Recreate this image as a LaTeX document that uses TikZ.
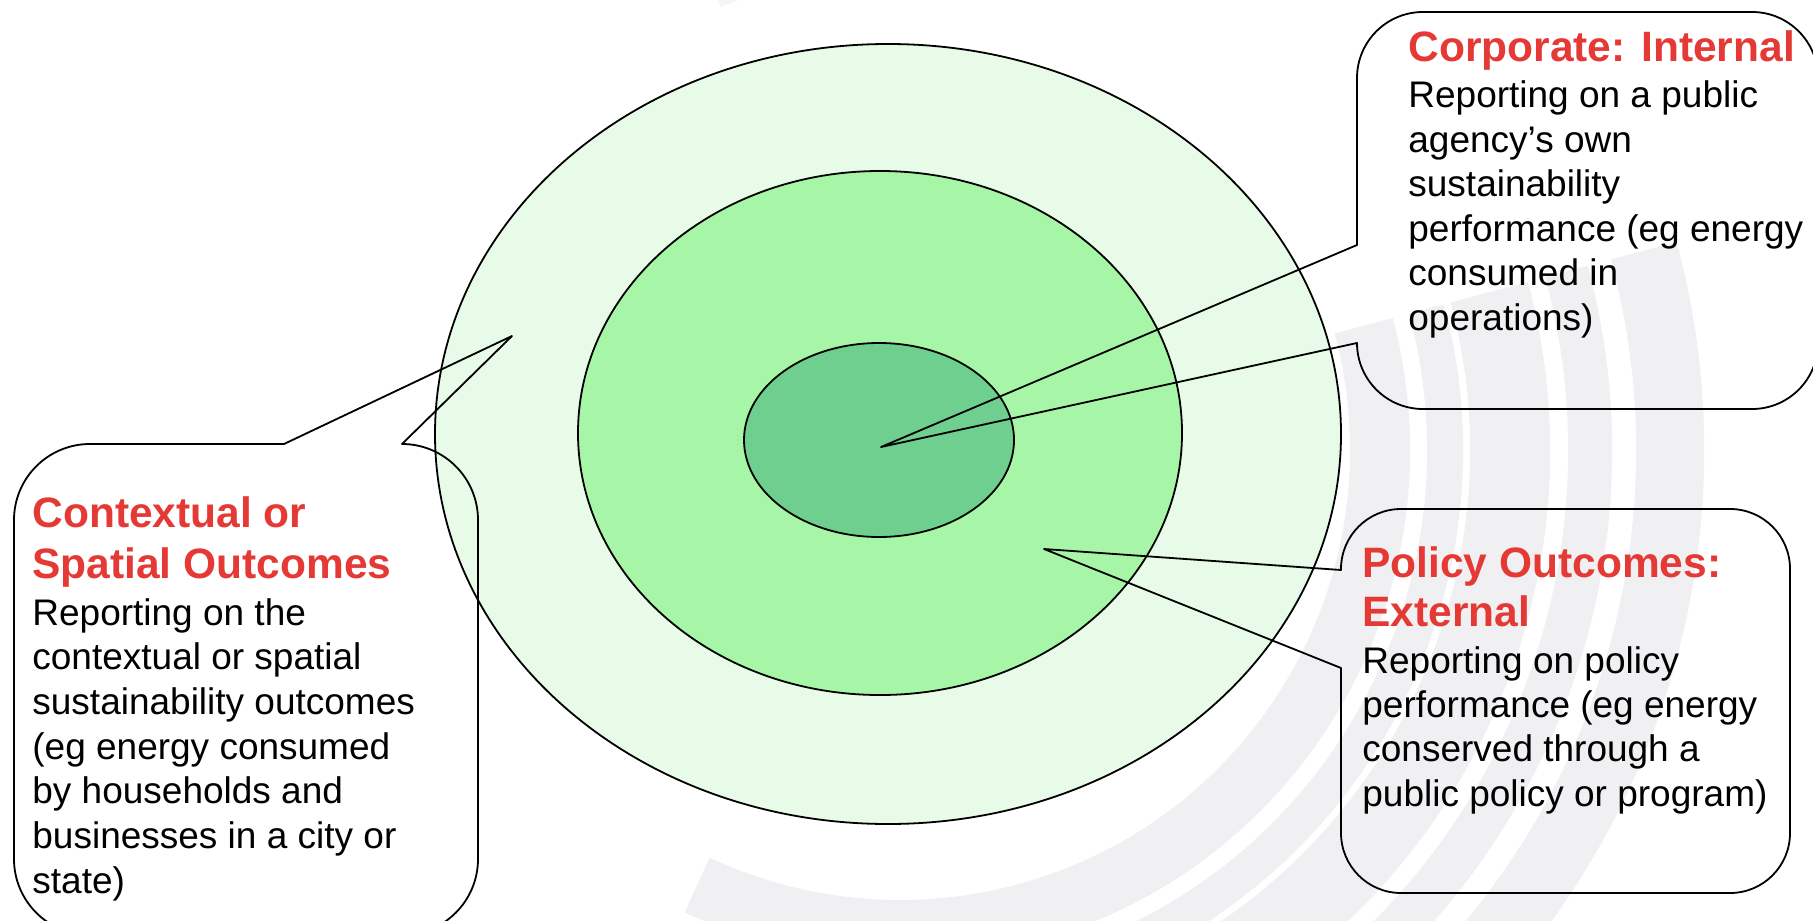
\documentclass[tikz,border=0pt]{standalone}
\usepackage{fontspec}
\setmainfont{Liberation Sans}
\usepackage{xcolor}
\definecolor{ringouter}{RGB}{229,250,229}
\definecolor{ringmiddle}{RGB}{160,246,160}
\definecolor{ringinner}{RGB}{111,207,143}
\definecolor{headred}{RGB}{229,57,53}
\definecolor{swoosh}{RGB}{222,222,230}

\begin{document}
\begin{tikzpicture}[x=0.5pt, y=-0.5pt,
  ring/.style={draw=black, line width=0.9pt},
  callout/.style={draw=black, line width=0.9pt, line join=round},
  head/.style={anchor=base west, inner sep=0pt, text=headred,
               font=\fontsize{21.25}{25}\selectfont\bfseries},
  body/.style={anchor=base west, inner sep=0pt,
               font=\fontsize{18.5}{22}\selectfont},
  band/.style={draw=swoosh, draw opacity=0.45},
]
  \useasboundingbox[fill=white] (0,0) rectangle (1813,920);

  % Background swirl
  \coordinate (swirl) at (900,450);
  \foreach \r/\w in {480/30, 545/18, 610/40, 690/22, 770/34}
    \draw[band, line width=\w] (swirl) ++(-15:\r) arc[start angle=-15, end angle=115, radius=\r];
  \foreach \r/\w in {500/22, 580/30}
    \draw[band, line width=\w, draw opacity=0.3] (swirl) ++(-112:\r) arc[start angle=-112, end angle=-78, radius=\r];

  % Rings
  \draw[ring, fill=ringouter, fill opacity=0.85] (888,434) ellipse[x radius=453, y radius=390];
  \draw[ring, fill=ringmiddle, fill opacity=0.9] (880,433) ellipse[x radius=302, y radius=262];
  \draw[ring, fill=ringinner] (879,440) ellipse[x radius=135, y radius=97];

  % Callout tips
  \coordinate (corpTip) at (881,447);
  \coordinate (polTip) at (1044,549);
  \coordinate (ctxTip) at (512,336);

  % Callout outlines
  \draw[callout] (1357,245) -- (corpTip) -- (1357,343)
    arc[start angle=180, end angle=90, radius=66] -- (1752,409)
    arc[start angle=90, end angle=0, radius=66] -- (1818,78)
    arc[start angle=0, end angle=-90, radius=66] -- (1423,12)
    arc[start angle=-90, end angle=-180, radius=66] -- cycle;
  \draw[callout] (1341,570) -- (polTip) -- (1341,668) -- (1341,833)
    arc[start angle=180, end angle=90, radius=60] -- (1730,893)
    arc[start angle=90, end angle=0, radius=60] -- (1790,569)
    arc[start angle=0, end angle=-90, radius=60] -- (1401,509)
    arc[start angle=-90, end angle=-180, radius=60] -- cycle;
  \draw[callout] (284,444) -- (ctxTip) -- (402,444)
    arc[start angle=-90, end angle=0, radius=76] -- (478,859)
    arc[start angle=0, end angle=90, radius=76] -- (90,935)
    arc[start angle=90, end angle=180, radius=76] -- (14,520)
    arc[start angle=180, end angle=270, radius=76] -- cycle;

  % Corporate: Internal
  \node[head] (corpHead) at (1408,62) {Corporate: Internal};
  \foreach \txt [count=\i] in {Reporting on a public, agency’s own, sustainability,
      performance (eg energy, consumed in, operations)}
    \node[body] (corp-\i) at (1408,{108+44.4*(\i-1)}) {\txt};

  % Policy Outcomes: External
  \node[head] (polHead1) at (1362,577) {Policy Outcomes:};
  \node[head] (polHead2) at (1362,626) {External};
  \foreach \txt [count=\i] in {Reporting on policy, performance (eg energy,
      conserved through a, public policy or program)}
    \node[body] (pol-\i) at (1362,{673+44.4*(\i-1)}) {\txt};

  % Contextual or Spatial Outcomes
  \node[head] (ctxHead1) at (32,527) {Contextual or};
  \node[head] (ctxHead2) at (32,578) {Spatial Outcomes};
  \foreach \txt [count=\i] in {Reporting on the, contextual or spatial,
      sustainability outcomes, {(eg energy consumed}, by households and,
      businesses in a city or, state)}
    \node[body] (ctx-\i) at (32,{625+44.7*(\i-1)}) {\txt};
\end{tikzpicture}
\end{document}
